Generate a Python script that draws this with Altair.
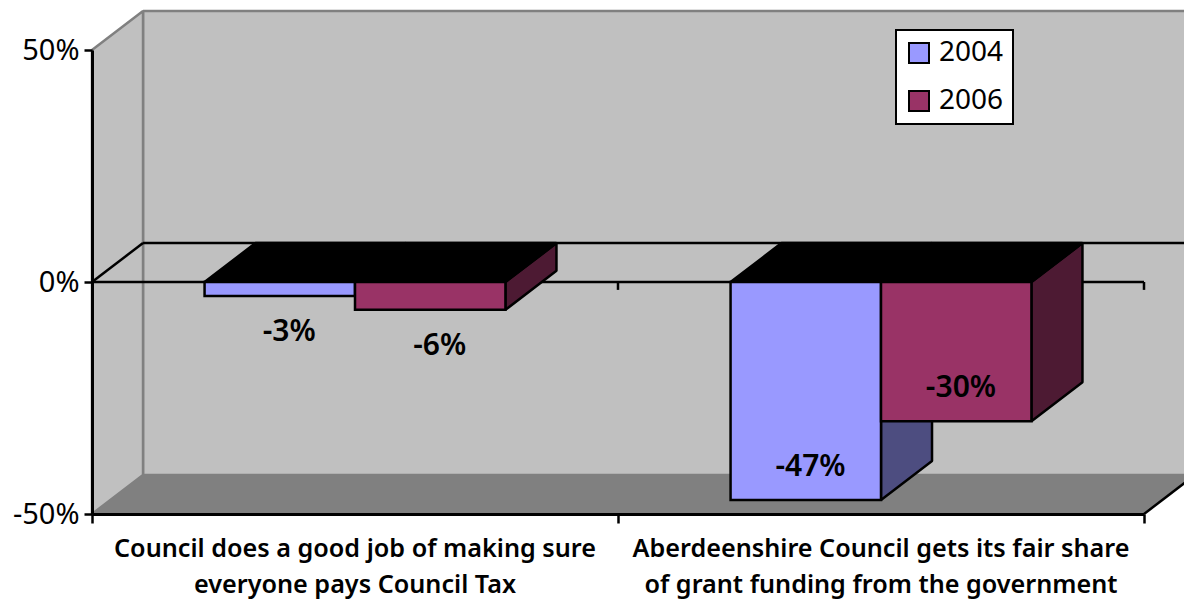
import altair as alt
import pandas as pd

categories = ["Council does a good job of making sure\neveryone pays Council Tax",
              "Aberdeenshire Council gets its fair share\nof grant funding from the government"]
years = ["2004", "2006"]
v2004 = [-3, -47]
v2006 = [-6, -30]

FONT = "Noto Sans"
C_FRONT = {"2004": "#9999FF", "2006": "#993366"}
C_SIDE = {"2004": "#4D4D80", "2006": "#4D1A33"}
WALL, FLOOR, EDGE = "#C0C0C0", "#808080", "#808080"
DX, DY = 0.097, 8.4          # depth of the 3-D box, in data units
GAP, BW = 0.214, 0.286       # category fractions
SW = 2.5

xs = alt.Scale(domain=[0, 2], nice=False, zero=False)
ys = alt.Scale(domain=[-50, 50], nice=False, zero=False)
X = lambda f, **k: alt.X(f, type="quantitative", scale=xs, title=None, **k)
Y = lambda f, **k: alt.Y(f, type="quantitative", scale=ys, title=None, **k)


def poly(pts, fill, stroke, sw=SW, join="miter"):
    closed = list(pts) + [pts[0]]
    df = pd.DataFrame({"x": [p[0] for p in closed], "y": [p[1] for p in closed], "i": range(len(closed))})
    return alt.Chart(df).mark_line(fill=fill, stroke=stroke, strokeWidth=sw, strokeJoin=join).encode(
        x=X("x"), y=Y("y"), order=alt.Order("i:Q"))


def seg(x0, y0, x1, y1, color="black", sw=SW):
    df = pd.DataFrame({"x": [x0, x1], "y": [y0, y1], "i": [0, 1]})
    return alt.Chart(df).mark_line(stroke=color, strokeWidth=sw).encode(x=X("x"), y=Y("y"), order=alt.Order("i:Q"))


layers = [
    poly([(DX, 50 + DY), (2 + DX, 50 + DY), (2 + DX, -50 + DY), (DX, -50 + DY)], WALL, EDGE, SW, "bevel"),
    poly([(0, 50), (DX, 50 + DY), (DX, -50 + DY), (0, -50)], WALL, EDGE, SW, "bevel"),
    poly([(0, -50), (DX, -50 + DY), (2 + DX, -50 + DY), (2, -50)], FLOOR, EDGE, 1, "bevel"),
    seg(0, 0, DX, DY),
    seg(DX, DY, 2 + DX, DY),
    seg(2, -50, 2 + DX, -50 + DY),
    seg(0, 0, 2, 0),
]

tick_df = pd.DataFrame({"x": [1, 2], "y": [0, 0], "y2": [-1.7, -1.7]})
layers.append(alt.Chart(tick_df).mark_rule(color="black", strokeWidth=SW).encode(x=X("x"), y=Y("y"), y2="y2"))

rows = []
for s, (yr, vals) in enumerate(zip(years, [v2004, v2006])):
    for c, v in enumerate(vals):
        x0 = c + GAP + s * BW
        x1 = x0 + BW
        rows.append(dict(year=yr, cat=c, v=v, x0=x0, x1=x1, zero=0))
bars = pd.DataFrame(rows)

for yr in years:
    for r in [q for q in rows if q["year"] == yr]:
        layers.append(poly([(r["x1"], 0), (r["x1"] + DX, DY), (r["x1"] + DX, r["v"] + DY), (r["x1"], r["v"])],
                           C_SIDE[yr], "black", SW, "bevel"))
    for r in [q for q in rows if q["year"] == yr]:
        layers.append(poly([(r["x0"], 0), (r["x1"], 0), (r["x1"] + DX, DY), (r["x0"] + DX, DY)],
                           "black", "black", SW, "bevel"))
    layers.append(alt.Chart(bars[bars.year == yr]).mark_rect(stroke="black", strokeWidth=SW).encode(
        x=X("x0"), x2="x1", y=Y("zero"), y2="v",
        color=alt.Color("year:N",
                        scale=alt.Scale(domain=years, range=[C_FRONT[y] for y in years]),
                        legend=alt.Legend(orient="none", legendX=804, legendY=-20, title=None,
                                          fillColor="white", strokeColor="black", padding=9,
                                          symbolType="square", symbolSize=400, symbolStrokeColor="black",
                                          symbolStrokeWidth=2, labelFont=FONT, labelFontSize=28,
                                          labelColor="black", labelOffset=6, rowPadding=20,
                                          values=years))))

bars["label"] = bars.v.astype(str) + "%"
for cat, dy, shift in [(0, 36, 0.018), (1, -33, 0.009)]:
    sub = bars[bars.cat == cat].assign(cx=lambda d: (d.x0 + d.x1) / 2 + shift)
    layers.append(alt.Chart(sub).mark_text(
        font=FONT, fontSize=30, fontWeight=600, color="black", baseline="middle", dy=dy).encode(
        x=X("cx"), y=Y("v"), text="label:N"))

cat_df = pd.DataFrame({"x": [0.5, 1.5], "y": [-50, -50], "t": categories})
layers.append(alt.Chart(cat_df).mark_text(
    font=FONT, fontSize=25.2, fontWeight=600, color="black", baseline="alphabetic", lineBreak="\n", lineHeight=36, dy=43).encode(
    x=X("x"), y=Y("y"), text="t:N"))

axis_df = pd.DataFrame({"x": [0, 2], "y": [-50, 50]})
layers.append(alt.Chart(axis_df).mark_point(opacity=0).encode(
    x=X("x", axis=alt.Axis(values=[0, 1, 2], labels=False, tickSize=9, tickWidth=SW, tickColor="black",
                           domainColor="black", domainWidth=3, grid=False, zindex=1)),
    y=Y("y", axis=alt.Axis(values=[-50, 0, 50], labelExpr="datum.value + '%'", tickSize=8, tickWidth=SW,
                           tickColor="black", domainColor="black", domainWidth=3, grid=False, zindex=1,
                           labelFont=FONT, labelFontSize=29, labelColor="black", labelPadding=5))))

chart = alt.layer(*layers).properties(
    width=1052, height=464, autosize="none",
    padding={"left": 84, "top": 42, "right": 40, "bottom": 85},
).configure_view(stroke=None).configure_legend(strokeWidth=2)

chart.save("out.html", embed_options={"renderer": "svg", "actions": False})
